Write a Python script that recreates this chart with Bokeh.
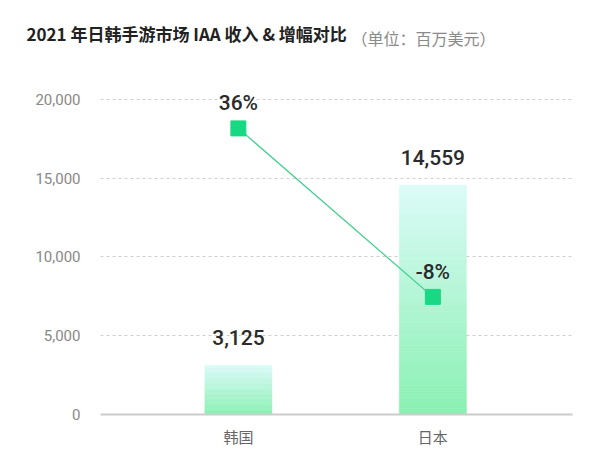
from bokeh.plotting import figure
from bokeh.models import Range1d, FixedTicker, Title, ColumnDataSource, NumeralTickFormatter, LinearAxis
from bokeh.core.properties import value
from bokeh.embed import file_html
from bokeh.resources import INLINE

# ---- data ----
categories = ["韩国", "日本"]
revenue = [3125, 14559]          # 百万美元
growth = [36, -8]                # %
y_ticks = [0, 5000, 10000, 15000, 20000]
title_main = "2021 年日韩手游市场 IAA 收入 & 增幅对比"
title_unit = "（单位：百万美元）"

CJK = "Noto Sans CJK SC"
NUM = "Roboto"
NUM_MED = "'Roboto Medium', Roboto"

xs = list(range(len(categories)))

X0, X1 = -0.709, 1.718
FRAME_L, FRAME_R = 100, 572

p = figure(width=583, height=449, output_backend="svg", toolbar_location=None,
           x_range=Range1d(X0, X1), y_range=Range1d(0, 20506),
           min_border_left=FRAME_L, min_border_right=583 - FRAME_R,
           min_border_top=91, min_border_bottom=34)
p.outline_line_color = None
p.background_fill_color = "white"
p.border_fill_color = "white"

p.extra_y_ranges = {"pct": Range1d(-38.72, 45.63)}

# gradient bars built from slices
N = 40
top_c = (0xdb, 0xfb, 0xf8)
bot_c = (0x8a, 0xf0, 0xb2)
bx, bb, bt, bc = [], [], [], []
for x, v in zip(xs, revenue):
    for i in range(N):
        f = (i + 0.5) / N
        c = tuple(int(round(bot_c[k] + (top_c[k] - bot_c[k]) * f)) for k in range(3))
        bx.append(x)
        bb.append(v * i / N)
        bt.append(v * (i + 1) / N)
        bc.append("#%02x%02x%02x" % c)
p.vbar(x=bx, bottom=bb, top=bt, width=0.344, fill_color=bc, line_color=bc, line_width=0.6)

# bar value labels
bar_src = ColumnDataSource(dict(x=xs, y=revenue, t=[f"{v:,}" for v in revenue]))
p.text(x="x", y="y", text="t", source=bar_src, y_offset=-28, text_align="center",
       text_baseline="middle", text_font=value(NUM_MED), text_font_size="21px",
       text_font_style="normal", text_color="#2b2b2b")

# growth line
g_src = ColumnDataSource(dict(x=xs, y=growth, t=[f"{g}%" for g in growth]))
p.line(x="x", y="y", source=g_src, y_range_name="pct", line_color="#3ccf8a", line_width=1.2)
p.scatter(x="x", y="y", source=g_src, y_range_name="pct", marker="square", size=15,
          fill_color="#19d883", line_color="#19d883")
p.text(x="x", y="y", text="t", source=g_src, y_range_name="pct", y_offset=-25,
       text_align="center", text_baseline="middle", text_font=value(NUM_MED),
       text_font_size="21px", text_font_style="normal", text_color="#2b2b2b")

# axes
ya = p.left[0]
ya.ticker = FixedTicker(ticks=y_ticks)
ya.formatter = NumeralTickFormatter(format="0,0")
ya.axis_line_color = None
ya.major_tick_line_color = None
ya.minor_tick_line_color = None
ya.major_tick_out = 0
ya.major_tick_in = 0
ya.minor_tick_out = 0
ya.major_label_standoff = 20
ya.major_label_text_font = NUM
ya.major_label_text_font_size = "15px"
ya.major_label_text_color = "#888888"

xa = p.below[0]
xa.ticker = FixedTicker(ticks=xs)
xa.major_label_overrides = {x: c for x, c in zip(xs, categories)}
xa.axis_line_color = "#cccccc"
xa.axis_line_width = 2
xa.major_tick_line_color = None
xa.minor_tick_line_color = None
xa.major_tick_out = 0
xa.major_tick_in = 0
xa.minor_tick_out = 0
xa.major_label_standoff = 11
xa.major_label_text_font = CJK
xa.major_label_text_font_size = "15px"
xa.major_label_text_color = "#666666"

p.xgrid.grid_line_color = None
p.ygrid.ticker = FixedTicker(ticks=y_ticks)
p.ygrid.grid_line_color = "#cfcfcf"
p.ygrid.grid_line_dash = "3 3"
p.ygrid.grid_line_width = 1

# unit note: drawn as the single tick label of a bare axis above the frame
unit_center_px = 423
unit_x = X0 + (unit_center_px - FRAME_L) * (X1 - X0) / (FRAME_R - FRAME_L)
ua = LinearAxis(ticker=FixedTicker(ticks=[unit_x]), major_label_overrides={unit_x: title_unit},
                axis_line_color=None, major_tick_line_color=None, minor_tick_line_color=None,
                major_tick_out=0, major_tick_in=0, minor_tick_out=0, minor_tick_in=0,
                major_label_standoff=42, major_label_text_font=CJK,
                major_label_text_font_size="16px", major_label_text_color="#8a8a8a")
p.add_layout(ua, "above")

# main title (outer panel)
p.add_layout(Title(text=title_main, align="left", offset=26 - FRAME_L, standoff=-46,
                   text_font=CJK, text_font_size="17px", text_font_style="bold",
                   text_color="#222222"), "above")

open("out.html", "w").write(file_html(p, INLINE))
